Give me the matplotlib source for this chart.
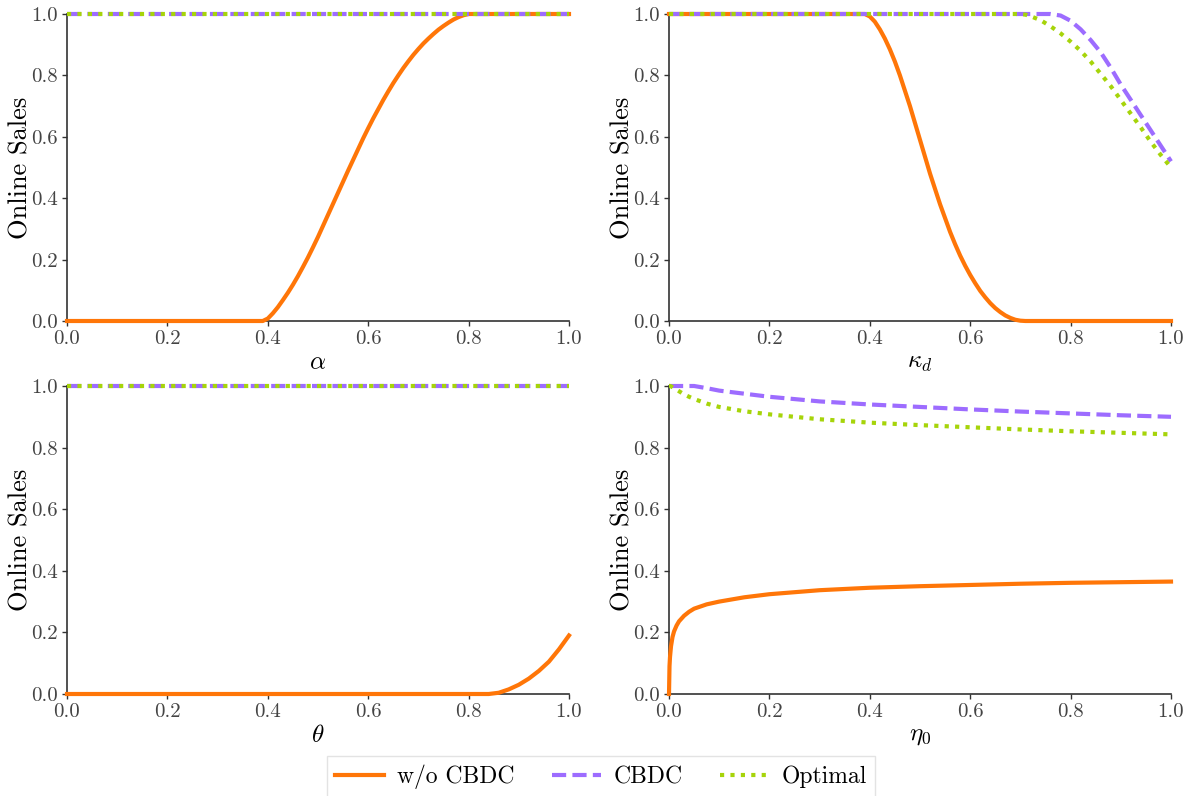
import matplotlib
matplotlib.use("Agg")
import matplotlib.pyplot as plt

plt.rcParams['font.family'] = 'serif'
plt.rcParams['font.serif'] = ['cmr10', 'DejaVu Serif']
plt.rcParams['mathtext.fontset'] = 'cm'
plt.rcParams['axes.unicode_minus'] = False

# ---- data ----
# Panel 1: alpha
alpha_x = [0.0, 0.1, 0.2, 0.3, 0.38, 0.39, 0.40, 0.41, 0.42, 0.43, 0.44, 0.45, 0.46, 0.47, 0.48,
           0.49, 0.50, 0.51, 0.52, 0.53, 0.54, 0.55, 0.56, 0.57, 0.58, 0.59, 0.60, 0.61, 0.62,
           0.63, 0.64, 0.65, 0.66, 0.67, 0.68, 0.69, 0.70, 0.71, 0.72, 0.73, 0.74, 0.75, 0.76,
           0.77, 0.78, 0.79, 0.80, 0.9, 1.0]
alpha_wo = [0.0, 0.0, 0.0, 0.0, 0.0, 0.0, 0.008, 0.025, 0.045, 0.068, 0.092, 0.118, 0.146, 0.176, 0.207,
            0.24, 0.274, 0.31, 0.346, 0.382, 0.418, 0.454, 0.49, 0.525, 0.56, 0.595, 0.628, 0.66, 0.69,
            0.72, 0.748, 0.775, 0.80, 0.824, 0.846, 0.867, 0.886, 0.904, 0.92, 0.935, 0.949, 0.961, 0.972,
            0.982, 0.99, 0.996, 1.0, 1.0, 1.0]
alpha_cbdc = [1.0] * len(alpha_x)
alpha_opt = [1.0] * len(alpha_x)

# Panel 2: kappa_d
kappa_x = [0.0, 0.1, 0.2, 0.3, 0.38, 0.39, 0.40, 0.41, 0.42, 0.43, 0.44, 0.45, 0.46, 0.47, 0.48,
           0.49, 0.50, 0.51, 0.52, 0.53, 0.54, 0.55, 0.56, 0.57, 0.58, 0.59, 0.60, 0.61, 0.62,
           0.63, 0.64, 0.65, 0.66, 0.67, 0.68, 0.69, 0.70, 0.71, 0.72, 0.74, 0.76, 0.78, 0.80,
           0.82, 0.84, 0.86, 0.88, 0.90, 0.92, 0.94, 0.96, 0.98, 1.0]
kappa_wo = [1.0, 1.0, 1.0, 1.0, 1.0, 1.0, 0.992, 0.975, 0.95, 0.92, 0.885, 0.845, 0.80, 0.75, 0.70,
            0.645, 0.59, 0.535, 0.48, 0.43, 0.38, 0.335, 0.29, 0.25, 0.213, 0.18, 0.15, 0.123, 0.098,
            0.077, 0.058, 0.042, 0.029, 0.018, 0.01, 0.004, 0.001, 0.0, 0.0, 0.0, 0.0, 0.0, 0.0,
            0.0, 0.0, 0.0, 0.0, 0.0, 0.0, 0.0, 0.0, 0.0, 0.0]
kappa_cbdc = [1.0, 1.0, 1.0, 1.0, 1.0, 1.0, 1.0, 1.0, 1.0, 1.0, 1.0, 1.0, 1.0, 1.0, 1.0,
              1.0, 1.0, 1.0, 1.0, 1.0, 1.0, 1.0, 1.0, 1.0, 1.0, 1.0, 1.0, 1.0, 1.0,
              1.0, 1.0, 1.0, 1.0, 1.0, 1.0, 1.0, 1.0, 1.0, 1.0, 1.0, 1.0, 0.995, 0.978,
              0.95, 0.915, 0.875, 0.825, 0.77, 0.72, 0.67, 0.62, 0.57, 0.52]
kappa_opt = [1.0, 1.0, 1.0, 1.0, 1.0, 1.0, 1.0, 1.0, 1.0, 1.0, 1.0, 1.0, 1.0, 1.0, 1.0,
             1.0, 1.0, 1.0, 1.0, 1.0, 1.0, 1.0, 1.0, 1.0, 1.0, 1.0, 1.0, 1.0, 1.0,
             1.0, 1.0, 1.0, 1.0, 1.0, 1.0, 1.0, 1.0, 0.998, 0.993, 0.98, 0.96, 0.937, 0.91,
             0.88, 0.845, 0.805, 0.765, 0.72, 0.675, 0.63, 0.583, 0.54, 0.50]

# Panel 3: theta
theta_x = [0.0, 0.2, 0.4, 0.6, 0.8, 0.84, 0.86, 0.88, 0.90, 0.92, 0.94, 0.96, 0.98, 1.0]
theta_wo = [0.0, 0.0, 0.0, 0.0, 0.0, 0.0, 0.004, 0.015, 0.03, 0.05, 0.075, 0.105, 0.145, 0.19]
theta_cbdc = [1.0] * len(theta_x)
theta_opt = [1.0] * len(theta_x)

# Panel 4: eta_0
eta_x = [0.0, 0.001, 0.002, 0.004, 0.007, 0.01, 0.015, 0.02, 0.03, 0.04, 0.05, 0.075, 0.1, 0.15,
         0.2, 0.3, 0.4, 0.5, 0.6, 0.7, 0.8, 0.9, 1.0]
eta_wo = [0.0, 0.09, 0.12, 0.155, 0.185, 0.203, 0.222, 0.236, 0.254, 0.267, 0.277, 0.291, 0.300, 0.314,
          0.324, 0.337, 0.345, 0.350, 0.354, 0.358, 0.361, 0.363, 0.365]
eta_cbdc = [1.0, 1.0, 1.0, 1.0, 1.0, 1.0, 1.0, 1.0, 1.0, 1.0, 1.0, 0.993, 0.985, 0.975,
            0.965, 0.95, 0.94, 0.932, 0.924, 0.917, 0.911, 0.905, 0.900]
eta_opt = [1.0, 1.0, 1.0, 0.999, 0.996, 0.993, 0.988, 0.983, 0.973, 0.965, 0.958, 0.943, 0.932, 0.918,
           0.908, 0.892, 0.881, 0.873, 0.866, 0.859, 0.853, 0.848, 0.843]

xlabels = [r'$\alpha$', r'$\kappa_d$', r'$\theta$', r'$\eta_0$']
series_names = ['w/o CBDC', 'CBDC', 'Optimal']
ticks = [0.0, 0.2, 0.4, 0.6, 0.8, 1.0]
tick_labels = ['0.0', '0.2', '0.4', '0.6', '0.8', '1.0']

panels = [
    (alpha_x, alpha_wo, alpha_cbdc, alpha_opt),
    (kappa_x, kappa_wo, kappa_cbdc, kappa_opt),
    (theta_x, theta_wo, theta_cbdc, theta_opt),
    (eta_x, eta_wo, eta_cbdc, eta_opt),
]

c_wo = '#ff7608'
c_cbdc = '#9d6cff'
c_opt = '#a6d40a'

fig = plt.figure(figsize=(11.94, 7.96), dpi=100)
W, H = 1194, 796
boxes = [
    (67, 569, 14, 321),
    (669, 1171, 14, 321),
    (67, 569, 386, 694),
    (669, 1171, 386, 694),
]
handles = None
for i, ((x, wo, cb, op), (l, r, t, b)) in enumerate(zip(panels, boxes)):
    ax = fig.add_axes([l / W, 1 - b / H, (r - l) / W, (b - t) / H])
    h1, = ax.plot(x, wo, color=c_wo, lw=3, ls='-', clip_on=False, zorder=3)
    h2, = ax.plot(x, cb, color=c_cbdc, lw=3, ls=(0, (3.4, 1.5)), clip_on=False, zorder=4)
    h3, = ax.plot(x, op, color=c_opt, lw=3, ls=(0, (1, 1.5)), clip_on=False, zorder=5)
    handles = [h1, h2, h3]
    ax.set_xlim(0, 1)
    ax.set_ylim(0, 1)
    ax.set_xticks(ticks)
    ax.set_xticklabels(tick_labels)
    ax.set_yticks(ticks)
    ax.set_yticklabels(tick_labels)
    for s in ['top', 'right']:
        ax.spines[s].set_visible(False)
    for s in ['left', 'bottom']:
        ax.spines[s].set_color('#333333')
        ax.spines[s].set_linewidth(1.2)
    ax.tick_params(axis='both', labelsize=15, colors='#333333', labelcolor='#444444',
                   length=3.5, width=1, pad=3)
    ax.set_xlabel(xlabels[i], fontsize=18, labelpad=3)
    ax.set_ylabel('Online Sales', fontsize=19)
    ax.yaxis.set_label_coords(-0.068, 0.5)

leg = fig.legend(handles, series_names, loc='center', bbox_to_anchor=(601 / W, 1 - 777 / H),
                 ncol=3, fontsize=17, frameon=True, fancybox=False, edgecolor='#dddddd',
                 handlelength=2.07, columnspacing=1.57, handletextpad=0.55, borderpad=0.35)
leg.get_frame().set_linewidth(1.0)

fig.savefig('out.png', dpi=100)
